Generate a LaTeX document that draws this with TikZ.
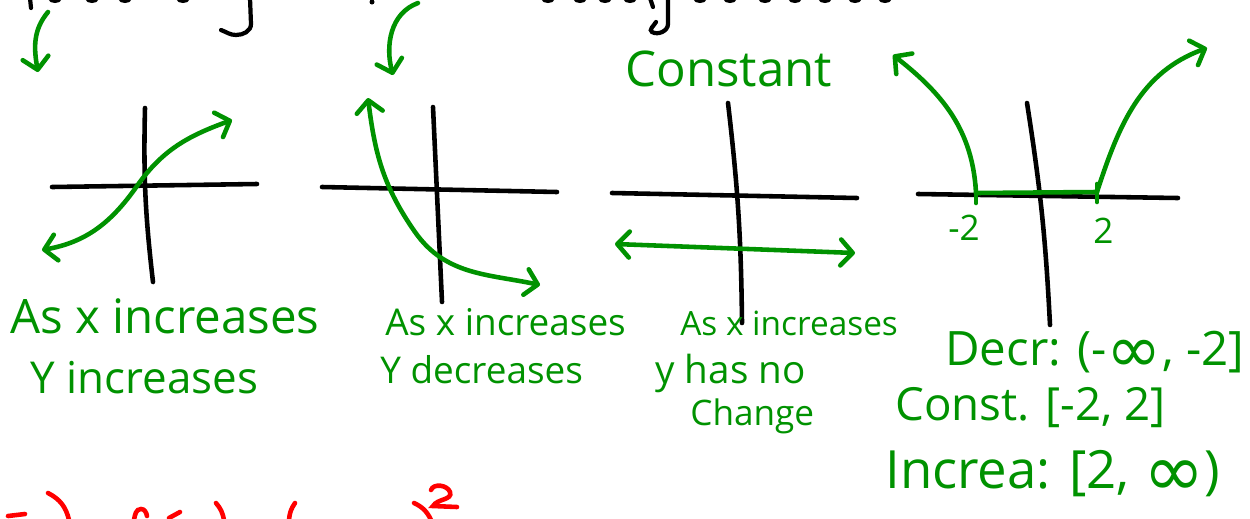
\documentclass[tikz,border=0pt]{standalone}
\usepackage{fontspec}
\setmainfont{Open Sans}
\newfontfamily\symfont{DejaVu Sans}
\usepackage{tikz}
\usetikzlibrary{arrows.meta}
\definecolor{penblack}{RGB}{0,0,0}
\definecolor{pengreen}{RGB}{0,146,0}
\definecolor{penred}{RGB}{255,0,0}
\newcommand{\sz}[1]{\fontsize{#1}{#1}\selectfont}
\newcommand{\infsym}{\raisebox{-0.3ex}{\scalebox{1.4}{\symfont ∞}}}
\tikzset{
  >={Straight Barb[round, length=2.4mm, width=5.2mm]},
  axisline/.style={draw=penblack, line width=2.6pt, line cap=round},
  graph/.style={draw=pengreen, line width=2.6pt, line cap=round, <->},
  graphend/.style={draw=pengreen, line width=2.6pt, line cap=round, ->},
  greenline/.style={draw=pengreen, line width=2.6pt, line cap=round},
  scrap/.style={draw=penblack, line width=2.4pt, line cap=round},
  redscrap/.style={draw=penred, line width=2.6pt, line cap=round},
  note/.style={text=pengreen, anchor=base west, inner sep=0pt}
}

\begin{document}
\begin{tikzpicture}[x=0.02cm, y=0.02cm]
  \useasboundingbox (0,0) rectangle (1250,-518);

  % cut-off heading at the top
  \draw[scrap] (30,2) -- (31,-8);
  \foreach \x in {55,92,125,183,548,580,605,630,700,730,765,795,825,855,885}
    \draw[scrap] (\x-5,2) to[out=-80,in=-100] (\x+5,2);
  \draw[scrap] (250,2) -- (251,-24) to[out=-90,in=0] (236,-35) to[out=180,in=-20] (221,-30);
  \fill[penblack] (372,-2) circle (2.5);
  \draw[scrap] (650,2) -- (653,-7);
  \draw[scrap] (668,2) -- (668,-24) to[out=-90,in=-30] (652,-32) to[out=150,in=-120] (656,-22);

  % pointers from the heading
  \coordinate (ptra) at (48,-12);
  \coordinate (ptrat) at (38,-72);
  \coordinate (ptrb) at (418,-3);
  \coordinate (ptrbt) at (393,-75);
  \draw[graphend] (ptra) to[out=230,in=100] (ptrat);
  \draw[graphend] (ptrb) to[out=200,in=105] (ptrbt);

  \node[note, font=\sz{28}] (constant) at (625,-86) {Constant};

  % graph 1: increasing
  \coordinate (p1xl) at (52,-187);
  \coordinate (p1xr) at (257,-184);
  \coordinate (p1yt) at (145,-108);
  \coordinate (p1yb) at (153,-282);
  \draw[axisline] (p1xl) -- (p1xr);
  \draw[axisline] (p1yt) to[bend right=4] (p1yb);
  \coordinate (p1a) at (42,-250);
  \coordinate (p1m) at (137,-186);
  \coordinate (p1b) at (232,-120);
  \draw[graph] (p1a) to[out=10,in=235] (p1m) to[out=55,in=200] (p1b);
  \node[note, font=\sz{27}] (incr1) at (10,-333) {As x increases};
  \node[note, font=\sz{25}] (incr2) at (30,-393) {Y increases};

  % graph 2: decreasing
  \coordinate (p2xl) at (322,-187);
  \coordinate (p2xr) at (557,-192);
  \coordinate (p2yt) at (433,-107);
  \coordinate (p2yb) at (442,-302);
  \draw[axisline] (p2xl) -- (p2xr);
  \draw[axisline] (p2yt) -- (p2yb);
  \coordinate (p2a) at (368,-98);
  \coordinate (p2m) at (415,-232);
  \coordinate (p2b) at (540,-285);
  \draw[graph] (p2a) to[out=-83,in=125] (p2m) to[out=-55,in=168] (p2b);
  \node[note, font=\sz{21}] (decr1) at (385,-335) {As x increases};
  \node[note, font=\sz{21}] (decr2) at (380,-383) {Y decreases};

  % graph 3: constant
  \coordinate (p3xl) at (612,-193);
  \coordinate (p3xr) at (857,-198);
  \coordinate (p3yt) at (728,-103);
  \coordinate (p3yb) at (742,-323);
  \draw[axisline] (p3xl) -- (p3xr);
  \draw[axisline] (p3yt) to[bend left=3] (p3yb);
  \coordinate (p3a) at (615,-244);
  \coordinate (p3b) at (855,-253);
  \draw[graph] (p3a) -- (p3b);
  \node[note, font=\sz{19}] (const1) at (680,-335) {As x increases};
  \node[note, font=\sz{22}] (const2) at (655,-383) {y has no};
  \node[note, font=\sz{20}] (const3) at (690,-425) {Change};

  % graph 4: piecewise
  \coordinate (p4xl) at (918,-194);
  \coordinate (p4xr) at (1178,-198);
  \coordinate (p4yt) at (1027,-103);
  \coordinate (p4yb) at (1050,-325);
  \draw[axisline] (p4xl) -- (p4xr);
  \draw[axisline] (p4yt) to[bend left=3] (p4yb);
  \coordinate (p4l) at (976,-193);
  \coordinate (p4r) at (1097,-192);
  \coordinate (p4lt) at (893,-55);
  \coordinate (p4rt) at (1207,-48);
  \draw[greenline] (p4l) -- (p4r);
  \draw[greenline] (976,-186) -- (976,-203);
  \draw[greenline] (1097,-184) -- (1097,-202);
  \draw[graphend] (p4l) to[out=93,in=-38] (p4lt);
  \draw[graphend] (p4r) to[out=72,in=200] (p4rt);
  \node[note, font=\sz{20}] (minustwo) at (948,-240) {-2};
  \node[note, font=\sz{20}] (plustwo) at (1093,-243) {2};

  \node[note, font=\sz{27}] (decr) at (945,-365) {Decr: (-\infsym, -2]};
  \node[note, font=\sz{26}] (const) at (895,-420) {Const. [-2, 2]};
  \node[note, font=\sz{30}] (increa) at (885,-488) {Increa: [2, \infsym)};

  % cut-off red line at the bottom
  \draw[redscrap] (8,-516) -- (25,-514);
  \draw[redscrap] (48,-493) to[bend left=25] (69,-520);
  \draw[redscrap] (134,-520) to[out=80,in=180] (141,-509) to[out=0,in=100] (147,-516);
  \draw[redscrap] (169,-518) -- (180,-512);
  \draw[redscrap] (216,-503) to[bend left=15] (224,-520);
  \draw[redscrap] (295,-503) to[bend right=15] (289,-520);
  \draw[redscrap] (414,-503) to[bend left=20] (431,-520);
  \draw[redscrap] (431,-490) to[out=70,in=110] (450,-492) to[out=-70,in=60] (433,-506) -- (457,-507);
\end{tikzpicture}
\end{document}
